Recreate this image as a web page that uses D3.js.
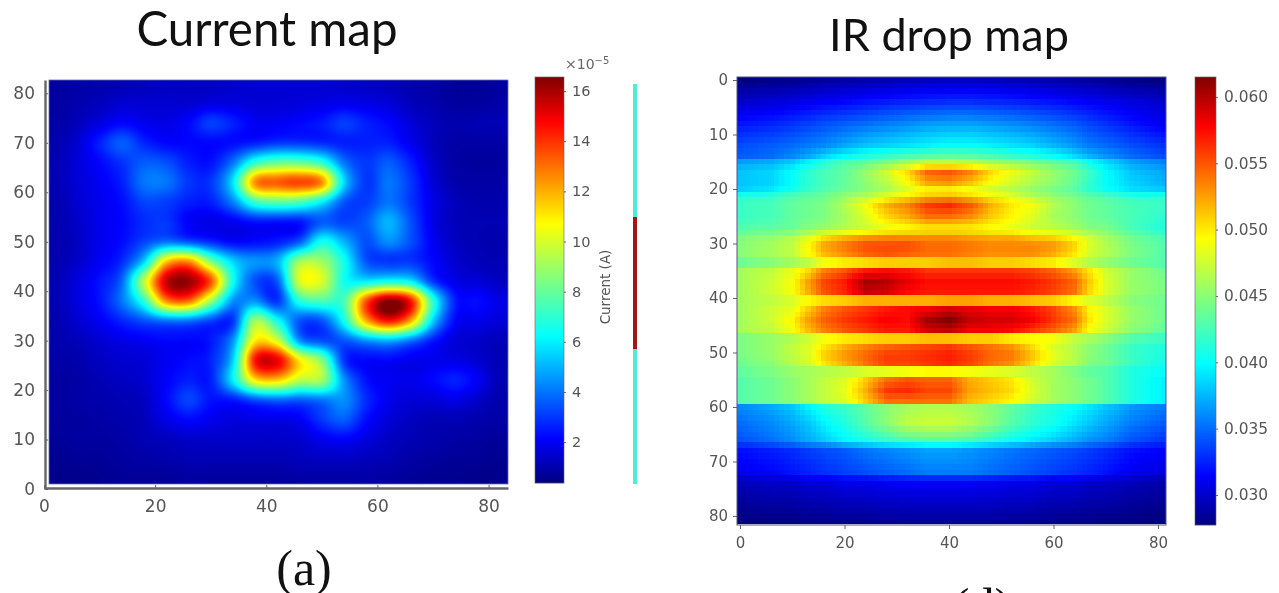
<!DOCTYPE html>
<html>
<head>
<meta charset="utf-8">
<script src="https://cdn.jsdelivr.net/npm/d3@7"></script>
<style>
  html, body { margin: 0; padding: 0; background: #fff; overflow: hidden; }
  #page { position: relative; width: 1279px; height: 593px; overflow: hidden; }
  canvas { position: absolute; filter: blur(0.7px); }
  svg { position: absolute; left: 0; top: 0; }
  .axis text { font-family: "DejaVu Sans", sans-serif; fill: #555; }
  .axis path, .axis line { stroke: #666; }
  .title { font-family: Lato, sans-serif; fill: #111; text-anchor: middle; }
  .panel { font-family: "Liberation Serif", serif; font-size: 50px; fill: #111; text-anchor: middle; }
</style>
</head>
<body>
<div id="page"></div>
<script>
'use strict';

// current map, x10^-5 A
var currentX = [2, 6, 10, 14, 18, 22, 26, 30, 34, 38, 42, 46, 50, 54, 58, 62, 66, 70, 74, 78, 82];
var currentY = [82, 78, 74, 70, 66, 62, 58, 54, 50, 46, 42, 38, 34, 30, 26, 22, 18, 14, 10, 6, 2];
var currentValues = [
  [.8, .9, 1.0, 1.1, 1.2, 1.3, 1.3, 1.3, 1.4, 1.5, 1.5, 1.5, 1.5, 1.4, 1.3, 1.2, 1.0, .9, .7, .7, .8],
  [.8, 1.0, 1.2, 1.5, 1.5, 1.5, 1.5, 1.7, 1.7, 1.6, 1.6, 1.7, 1.8, 1.9, 1.8, 1.6, 1.2, 1.0, .8, .8, .9],
  [.9, 1.2, 1.7, 2.2, 1.9, 1.8, 2.2, 3.1, 2.6, 2.0, 2.0, 2.2, 2.5, 3.1, 2.6, 2.2, 1.6, 1.2, 1.0, 1.1, 1.1],
  [1.0, 1.5, 2.6, 3.6, 2.7, 2.2, 2.2, 2.2, 2.3, 2.6, 3.0, 3.0, 2.8, 2.6, 2.6, 2.6, 1.9, 1.2, .9, .9, .9],
  [1.1, 1.6, 2.2, 2.9, 3.6, 3.4, 2.6, 2.4, 4.0, 7.0, 8, 8, 7, 4.0, 3.0, 3.6, 2.6, 1.4, .9, .8, .8],
  [1.1, 1.6, 2.0, 2.6, 4.0, 4.0, 3.0, 3.0, 5.8, 12.5, 13.3, 13.7, 12.5, 5.6, 3.0, 4.0, 3.0, 1.6, 1.0, .9, .9],
  [1.0, 1.5, 1.9, 2.3, 3.2, 3.1, 2.6, 2.6, 4.2, 7.2, 7.8, 7.5, 6, 3.5, 3.1, 4, 3, 1.8, 1.2, 1.0, 1.0],
  [1.0, 1.4, 1.9, 2.2, 2.8, 3.0, 2.1, 1.8, 2.0, 2.4, 2.4, 2.5, 3.6, 3.2, 3.6, 5.0, 3.4, 1.8, 1.2, 1.1, 1.1],
  [1.0, 1.3, 1.9, 2.3, 3.2, 4.0, 3.5, 2.8, 2.2, 2.3, 2.6, 3.6, 6.5, 5.0, 3.4, 4.4, 3.4, 2.0, 1.3, 1.1, 1.0],
  [1.0, 1.4, 2.0, 2.8, 5.5, 11.5, 12.5, 8.5, 5.5, 4.5, 5, 9, 9, 6.5, 3.5, 3.0, 3.0, 2.2, 1.5, 1.2, 1.1],
  [1.1, 1.7, 2.4, 3.8, 9.5, 15.5, 16.2, 13.5, 6.5, 3.4, 3.6, 10, 10, 6.5, 6, 6.5, 6, 3, 1.8, 1.6, 1.3],
  [1.1, 1.7, 2.4, 4.0, 7.0, 12.5, 13, 9, 4.5, 4.5, 3.0, 6.8, 7.5, 7.5, 13.5, 16.5, 14.5, 7, 2.6, 2.3, 1.8],
  [1.0, 1.5, 2.0, 2.7, 3.4, 4.0, 4.0, 3.2, 3.0, 9, 6.5, 3.5, 3.5, 6.5, 12, 14.5, 12, 5.5, 2.2, 1.9, 1.6],
  [1.0, 1.2, 1.5, 1.8, 2.0, 2.2, 2.2, 2.5, 4.5, 11, 10, 4.5, 3.4, 3.5, 4.5, 5, 4, 2.5, 1.6, 1.4, 1.2],
  [.9, 1.0, 1.3, 1.5, 1.6, 2.0, 2.3, 2.7, 5.5, 14.5, 15, 11, 8.5, 3.0, 2.2, 2.2, 1.9, 1.9, 1.8, 1.5, 1.1],
  [.8, .9, 1.1, 1.3, 1.5, 2.1, 2.6, 2.6, 6, 11, 11.5, 9.5, 9, 4.5, 2.4, 2.0, 1.9, 2.2, 2.6, 2.0, 1.1],
  [.8, .9, 1.0, 1.1, 1.3, 2.2, 3.2, 2.4, 2.5, 3.4, 3.8, 3.6, 4.0, 4.4, 2.8, 1.9, 1.6, 1.6, 1.8, 1.4, 1.0],
  [.8, .8, .9, 1.0, 1.2, 1.8, 2.2, 1.9, 1.7, 1.8, 1.8, 2.0, 3.0, 3.6, 2.3, 1.6, 1.3, 1.1, 1.1, 1.0, .9],
  [.7, .8, .8, .9, 1.1, 1.2, 1.4, 1.4, 1.4, 1.4, 1.4, 1.5, 1.9, 2.1, 1.7, 1.3, 1.1, 1.0, .9, .8, .7],
  [.6, .7, .7, .8, .9, 1.0, 1.1, 1.1, 1.1, 1.1, 1.1, 1.2, 1.3, 1.3, 1.2, 1.1, .9, .8, .7, .7, .6],
  [.5, .5, .6, .7, .7, .7, .8, .8, .8, .8, .8, .9, .9, .9, .9, .8, .7, .6, .6, .5, .5]
];

// IR drop map, x10^-3 V
var dropX = [0, 6, 10, 13, 16, 20, 24, 28, 32, 36, 40, 44, 48, 52, 56, 60, 64, 67, 70, 75, 81];
var dropY = [0, 4, 8, 12, 14, 15.2, 17, 19.2, 20.5, 21.3, 23, 25.2, 27.5, 28.7, 30.3, 32, 33, 34, 35, 37, 39, 40, 41, 42, 44, 46, 47, 48, 49, 50.5, 52, 53, 54, 55, 57, 59, 60, 63, 66.5, 67.5, 72, 73.5, 81];
var dropValues = [
  [27.8, 28, 28.2, 28.4, 28.6, 28.8, 29, 29.2, 29.4, 29.6, 29.7, 29.7, 29.6, 29.4, 29.2, 29, 28.8, 28.6, 28.4, 28, 27.8],
  [30, 30.3, 30.6, 31, 31.3, 31.6, 32, 32.3, 32.6, 32.8, 33, 33, 32.8, 32.6, 32.3, 32, 31.6, 31.3, 31, 30.5, 30],
  [32, 32.5, 33, 33.5, 34, 34.5, 35, 35.5, 36, 36.5, 36.7, 36.7, 36.4, 36, 35.5, 35, 34.3, 33.6, 33, 32, 31],
  [34, 34.5, 35, 35.5, 36, 37, 38, 38.5, 39, 39.5, 40, 40, 39.5, 39, 38.5, 37.5, 36.5, 35.5, 35, 34, 33],
  [34.5, 35, 36, 37, 38.5, 40, 41, 42, 42.8, 43.3, 43.5, 43.3, 42.8, 42, 41.3, 40.3, 38.8, 37.5, 36.5, 35, 34],
  [37, 37.5, 38.5, 40, 41.5, 43, 43.5, 44.5, 46, 47.5, 47.5, 47, 46, 45.5, 44.5, 43.5, 42.5, 40.5, 39, 37, 36],
  [38, 38.5, 40, 41.5, 42.5, 43.5, 45.5, 47.5, 50.5, 54.5, 55, 53.5, 50.5, 48.5, 47, 45.5, 44, 42, 40, 38, 37],
  [38, 38.5, 40, 41.5, 42.5, 43.5, 45, 46.5, 49, 52, 52.5, 51, 49, 47.5, 46, 45, 43.5, 41.5, 40, 38.5, 37.5],
  [38.5, 39.5, 41, 42, 43, 44, 45, 46, 47.5, 48.5, 48.5, 48, 47, 46, 45, 44, 43, 41.5, 40.5, 39, 38.5],
  [41.5, 42, 43, 43.5, 44, 45.5, 47, 49, 50.5, 52, 52.5, 51.5, 50, 49, 47, 45.5, 44.5, 43.5, 43, 42, 41.5],
  [42, 42.5, 43.5, 44, 44.5, 46.5, 49, 52, 53.5, 56, 56.5, 55, 52, 50, 49, 46.5, 45, 44, 43.5, 42.5, 42],
  [42, 42.5, 43.5, 44, 44.5, 46, 48, 50.5, 52, 54, 54, 53, 51, 49.5, 48, 46, 45, 44, 43.5, 42.5, 41.5],
  [43, 43.5, 44, 45, 45.5, 46.5, 47.5, 48.5, 49, 49.5, 49.5, 49.5, 49, 48.5, 47.5, 47, 46, 45, 44.5, 42.5, 41],
  [44.5, 45.5, 46.5, 48, 50, 51.5, 52.5, 53, 53, 53, 53, 52.5, 52, 52, 51, 50.5, 49, 47.5, 46, 44, 42.5],
  [45, 46, 47, 49.5, 52.5, 54, 55.5, 55.5, 55.5, 54.5, 54.5, 54, 53.5, 53.5, 53.5, 53, 51, 48, 46.5, 44.5, 43],
  [45, 46, 47, 49, 51.5, 53, 54.5, 55, 54.5, 54, 54, 53.5, 53, 53, 53, 52, 50, 47.5, 46.5, 44.5, 43],
  [44, 45, 46, 47, 49, 50, 50.5, 51, 51, 51, 51.5, 51.5, 51, 51, 50.5, 50, 48, 46.5, 45.5, 44, 43],
  [44, 45, 46, 47, 49, 50, 50.5, 51, 51, 51, 51.5, 51.5, 51, 51, 50.5, 50, 48, 46.5, 45.5, 44, 43],
  [46, 47, 48.5, 50.5, 53.5, 55, 57, 57.5, 57, 56, 56, 56, 56, 56, 55.5, 54.5, 52.5, 50, 47.5, 45.5, 44],
  [46, 47.5, 49, 52.5, 55.5, 57, 60.5, 60, 58.5, 57.5, 57.5, 57.5, 57.5, 57.5, 57, 56, 54.5, 51, 48, 45.5, 44.5],
  [46, 47.5, 49, 52, 55, 56.5, 59.5, 59, 57.5, 57, 57, 57, 57, 57, 56.5, 55.5, 54, 50.5, 48, 45.5, 44.5],
  [46, 47, 48, 49.5, 50.5, 51, 52, 52, 52, 52, 52.5, 52.5, 52, 52, 51.5, 51, 49.5, 48, 47, 45, 44],
  [46, 47, 48, 49.5, 50.5, 51, 52, 52, 52, 52, 52.5, 52.5, 52, 52, 51.5, 51, 49.5, 48, 47, 45, 44],
  [46, 47.5, 48.5, 51, 53.5, 55, 56, 57, 57.5, 58, 59, 58.5, 58, 58, 57, 55.5, 53, 49.5, 48, 45.5, 44],
  [46, 47.5, 49.5, 52.5, 54.5, 56, 57, 58, 57.5, 60.5, 61.5, 59.5, 59, 59, 58, 56, 54, 50, 48, 45.5, 44],
  [46, 47, 49, 51.5, 53.5, 55, 56, 57, 57, 59, 59.5, 58, 58, 57.5, 56, 54.5, 52.5, 49, 47.5, 45, 43.5],
  [44.5, 45.5, 46.5, 47.5, 49, 50, 50.5, 51, 51, 51.5, 51.5, 51, 51, 50, 49.5, 49, 47, 46, 45, 43, 42],
  [44.5, 45.5, 46.5, 47.5, 49, 50, 50.5, 51, 51, 51.5, 51.5, 51, 51, 50, 49.5, 49, 47, 46, 45, 43, 42],
  [44.5, 45.5, 47, 48, 50, 52, 53.5, 54.5, 55, 55.5, 56, 55, 54, 53, 50.5, 48, 46.5, 45, 44, 42, 41],
  [44.5, 45.5, 47, 48, 51, 53, 54.5, 56, 56, 56.5, 57, 56, 54.5, 54, 51.5, 48.5, 46.5, 45, 44, 42, 41],
  [44, 45, 46.5, 47.5, 50, 52, 54, 55.5, 55.5, 56, 56.5, 55.5, 54, 53, 50.5, 48, 46.5, 44.5, 44, 42, 40.5],
  [43.5, 44.5, 45.5, 46, 46.5, 47, 48, 48.5, 49, 49.5, 49.5, 49, 48.5, 48, 47, 46, 44.5, 43.5, 43, 41, 40],
  [43.5, 44.5, 45.5, 46, 46.5, 47, 48, 48.5, 49, 49.5, 49.5, 49, 48.5, 48, 47, 46, 44.5, 43.5, 43, 41, 40],
  [43, 44, 45, 46, 47, 48, 51, 54, 55, 54.5, 54.5, 52, 51, 50, 47.5, 46, 45, 44, 43, 41, 39.5],
  [43, 44, 45, 46, 47, 48.5, 52, 56, 56.5, 55.5, 55.5, 52.5, 51.5, 50.5, 48, 46, 45, 44, 43, 41, 39.5],
  [43, 44, 45, 46, 47, 48, 51, 54, 54, 54, 54, 51.5, 50.5, 49.5, 47.5, 46, 45, 44, 43, 41, 39.5],
  [36, 37, 38, 39.5, 41, 42, 43.5, 45, 46, 46.5, 46.5, 46, 45, 43.5, 42, 41, 40, 39, 38, 36.5, 35.5],
  [35, 36, 37, 38, 39.5, 41, 43, 45, 47, 47.5, 47.5, 46.5, 45, 43, 41.5, 40.5, 39, 38, 37, 35.5, 34.5],
  [34, 35, 36, 37, 38, 39.5, 40.5, 41.5, 42, 42.5, 42.5, 42, 41, 40, 39, 38, 37, 36, 35.5, 34, 33],
  [32, 32.5, 33, 33.5, 34, 34.5, 35.5, 36, 36.5, 37, 37, 36.5, 36, 35.5, 35, 34.5, 34, 33.5, 33, 32, 31.5],
  [31, 31.5, 32, 32.5, 33, 33.5, 34, 34.5, 35, 35.5, 35.5, 35.5, 35, 34.5, 34, 33.5, 33, 32.5, 32, 31, 30.5],
  [29.5, 30, 30, 30.5, 30.5, 31, 31, 31.3, 31.5, 31.5, 31.5, 31.5, 31.3, 31, 31, 30.5, 30.5, 30, 30, 29.5, 29],
  [27.7, 27.8, 27.9, 28, 28.1, 28.2, 28.3, 28.4, 28.5, 28.5, 28.5, 28.5, 28.5, 28.4, 28.3, 28.2, 28.1, 28, 27.9, 27.8, 27.7]
];

var currentTicks = [0, 20, 40, 60, 80];
var currentYTicks = [0, 10, 20, 30, 40, 50, 60, 70, 80];
var currentBarTicks = [2, 4, 6, 8, 10, 12, 14, 16];
var currentRange = [0.37, 16.56];
var dropTicks = [0, 20, 40, 60, 80];
var dropYTicks = [0, 10, 20, 30, 40, 50, 60, 70, 80];
var dropBarTicks = [0.030, 0.035, 0.040, 0.045, 0.050, 0.055, 0.060];
var dropRange = [0.02774, 0.0615];

var page = d3.select('#page');
var svg = page.append('svg').attr('width', 1279).attr('height', 593);

svg.append('defs').append('filter').attr('id', 'soft')
  .append('feGaussianBlur').attr('stdDeviation', 0.45);

var jet = d3.scaleLinear()
  .domain([0, 0.11, 0.36, 0.64, 0.89, 1])
  .range(['#000080', '#0000ff', '#00ffff', '#ffff00', '#ff0000', '#800000'])
  .clamp(true);

function addCanvas(box) {
  var canvas = page.insert('canvas', 'svg')
    .attr('width', box.width).attr('height', box.height)
    .style('left', box.left + 'px').style('top', box.top + 'px');
  return canvas.node().getContext('2d');
}

// plain bicubic lookup, imshow does the same with interpolation='bicubic'
function catmull(a, b, c, d, t) {
  return 0.5 * (2 * b + (c - a) * t + (2 * a - 5 * b + 4 * c - d) * t * t + (3 * b - a - 3 * c + d) * t * t * t);
}
function smoothAt(grid, fx, fy) {
  var rows = grid.length, cols = grid[0].length;
  var cx = Math.min(Math.max(Math.floor(fx), 0), cols - 1), cy = Math.min(Math.max(Math.floor(fy), 0), rows - 1);
  var tx = fx - cx, ty = fy - cy;
  function pick(r, c) {
    return grid[Math.min(Math.max(r, 0), rows - 1)][Math.min(Math.max(c, 0), cols - 1)];
  }
  var line = [-1, 0, 1, 2].map(function(dr) {
    return catmull(pick(cy + dr, cx - 1), pick(cy + dr, cx), pick(cy + dr, cx + 1), pick(cy + dr, cx + 2), tx);
  });
  return catmull(line[0], line[1], line[2], line[3], ty);
}

function styleAxis(g, size) {
  g.attr('class', 'axis');
  g.selectAll('text').style('font-size', size + 'px').attr('filter', 'url(#soft)');
}

function colorbar(box, range, ticks, format, size) {
  var scale = d3.scaleLinear().domain(range).range([box.top + box.height, box.top]);
  var frac = d3.scaleLinear().domain(range).range([0, 1]);
  svg.append('g').selectAll('rect')
    .data(d3.range(0, box.height))
    .enter().append('rect')
    .attr('x', box.left).attr('width', box.width)
    .attr('y', function(d) { return box.top + d; }).attr('height', 1.2)
    .attr('fill', function(d) { return jet(frac(scale.invert(box.top + d + 0.5))); });
  svg.append('g').attr('transform', 'translate(' + (box.left + box.width) + ',0)')
    .call(d3.axisRight(scale).tickValues(ticks).tickFormat(format).tickSize(2).tickPadding(6))
    .call(styleAxis, size)
    .call(function(g) { g.select('.domain').remove(); });
  svg.append('rect')
    .attr('x', box.left).attr('y', box.top).attr('width', box.width).attr('height', box.height)
    .attr('fill', 'none').attr('stroke', '#666').attr('stroke-opacity', 0.6);
}

// ---- current map
var curBox = {left: 49, top: 80, width: 459, height: 404};
var curX = d3.scaleLinear().domain([0, 83.5]).range([44, 508]);
var curY = d3.scaleLinear().domain([0, 82.7]).range([489, 80]);
var curFrac = d3.scaleLinear().domain(currentRange).range([0, 1]);
var curColX = d3.scaleLinear().domain(d3.extent(currentX)).range([0, currentX.length - 1]);
var curRowY = d3.scaleLinear().domain([currentY[0], currentY[currentY.length - 1]]).range([0, currentY.length - 1]);
var ctxCur = addCanvas(curBox);
d3.range(curBox.width).forEach(function(px) {
  d3.range(curBox.height).forEach(function(py) {
    var ux = curX.invert(curBox.left + px + 0.5), uy = curY.invert(curBox.top + py + 0.5);
    ctxCur.fillStyle = jet(curFrac(smoothAt(currentValues, curColX(ux), curRowY(uy))));
    ctxCur.fillRect(px, py, 1, 1);
  });
});

svg.append('g').attr('transform', 'translate(0,488)')
  .call(d3.axisBottom(curX).tickValues(currentTicks).tickSizeInner(-3).tickSizeOuter(0).tickPadding(12))
  .call(styleAxis, 17)
  .call(function(g) { g.select('.domain').attr('stroke', '#a8a8a8').attr('stroke-width', 2.4); });
svg.append('g').attr('transform', 'translate(45,0)')
  .call(d3.axisLeft(curY).tickValues(currentYTicks).tickSizeInner(-3).tickSizeOuter(0).tickPadding(10))
  .call(styleAxis, 17)
  .call(function(g) { g.select('.domain').attr('stroke', '#a8a8a8').attr('stroke-width', 2.4); });
svg.append('rect')
  .attr('x', curBox.left).attr('y', curBox.top).attr('width', curBox.width).attr('height', curBox.height)
  .attr('fill', 'none').attr('stroke', '#6a6ab8').attr('stroke-width', 0.8);

colorbar({left: 535, top: 77, width: 29, height: 406}, currentRange, currentBarTicks, d3.format('d'), 14.5);

svg.append('text').attr('x', 565).attr('y', 69).attr('filter', 'url(#soft)')
  .style('font-family', '"DejaVu Sans", sans-serif').style('font-size', '14px').attr('fill', '#666')
  .text('\u00d710')
  .append('tspan').attr('dy', -5).style('font-size', '10px').text('\u22125');
svg.append('text').attr('transform', 'translate(610,287) rotate(-90)').attr('text-anchor', 'middle')
  .attr('filter', 'url(#soft)')
  .style('font-family', '"DejaVu Sans", sans-serif').style('font-size', '13.5px').attr('fill', '#555')
  .text('Current (A)');

// stray strip right of the colorbar
svg.append('rect').attr('x', 633).attr('y', 84).attr('width', 4).attr('height', 400).attr('fill', '#50ecd8');
svg.append('rect').attr('x', 633).attr('y', 217).attr('width', 4).attr('height', 132).attr('fill', '#a01818');

// ---- IR drop map
var dropBox = {left: 737, top: 77, width: 429, height: 448};
var irX = d3.scaleLinear().domain([0, 80]).range([740, 1158]);
var irY = d3.scaleLinear().domain([0, 80]).range([80, 516]);
var dropFrac = d3.scaleLinear().domain(dropRange).range([0, 1]);
var rowScales = dropValues.map(function(row) {
  return d3.scaleLinear().domain(dropX).range(row);
});
var ctxDrop = addCanvas(dropBox);
d3.range(0, 82).forEach(function(ux) {
  var across = d3.scaleLinear().domain(dropY).range(rowScales.map(function(s) { return s(ux); }));
  var x0 = Math.round(irX(ux - 0.5)) - dropBox.left, x1 = Math.round(irX(ux + 0.5)) - dropBox.left;
  d3.range(0, 82).forEach(function(uy) {
    var y0 = Math.round(irY(uy - 0.5)) - dropBox.top, y1 = Math.round(irY(uy + 0.5)) - dropBox.top;
    ctxDrop.fillStyle = jet(dropFrac(across(uy) / 1000));
    ctxDrop.fillRect(x0, y0, x1 - x0, y1 - y0);
  });
});

svg.append('g').attr('transform', 'translate(0,525)')
  .call(d3.axisBottom(irX).tickValues(dropTicks).tickSize(4).tickPadding(8))
  .call(styleAxis, 15)
  .call(function(g) { g.select('.domain').remove(); });
svg.append('g').attr('transform', 'translate(737,0)')
  .call(d3.axisLeft(irY).tickValues(dropYTicks).tickSize(4).tickPadding(5))
  .call(styleAxis, 15)
  .call(function(g) { g.select('.domain').remove(); });
svg.append('rect')
  .attr('x', dropBox.left).attr('y', dropBox.top).attr('width', dropBox.width).attr('height', dropBox.height)
  .attr('fill', 'none').attr('stroke', '#555580').attr('stroke-width', 1);

colorbar({left: 1195, top: 77, width: 21, height: 448}, dropRange, dropBarTicks, d3.format('.3f'), 15.4);

// ---- titles
svg.append('text').attr('class', 'title').attr('x', 267).attr('y', 46).style('font-size', '47.5px').text('Current map');
svg.append('text').attr('class', 'title').attr('x', 949).attr('y', 51).style('font-size', '45px').text('IR drop map');
svg.append('text').attr('class', 'panel').attr('x', 304).attr('y', 585).text('(a)');
svg.append('text').attr('class', 'panel').attr('x', 982).attr('y', 623).text('(d)');
</script>
</body>
</html>
